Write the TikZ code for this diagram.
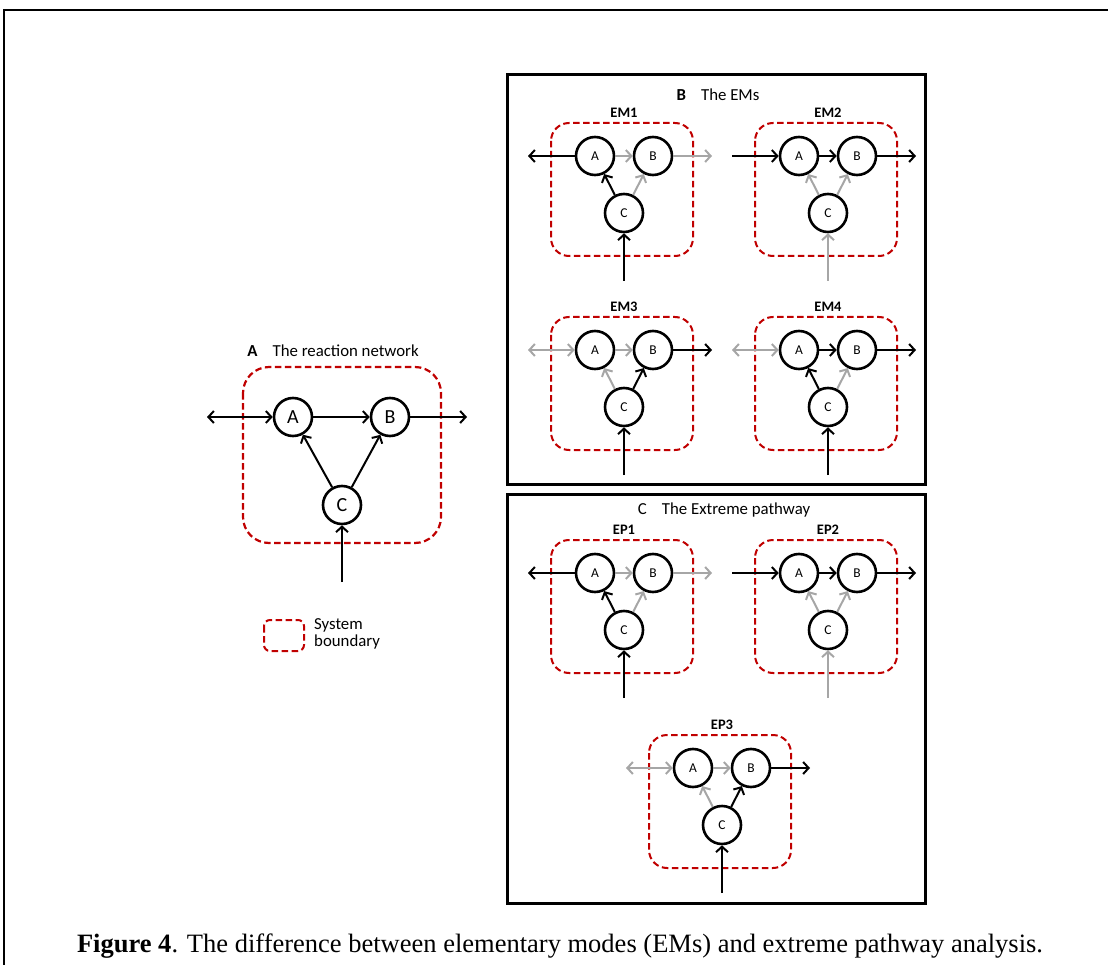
\documentclass[tikz,border=0pt]{standalone}
\usepackage{fontspec}
\setmainfont{Carlito}
\newfontfamily\capfont{Liberation Serif}
\usetikzlibrary{arrows.meta}

\definecolor{bred}{HTML}{C00000}
\definecolor{idle}{HTML}{A6A6A6}

% one small network: #1 prefix, #2 title, #3 left edge (tips, colour),
% #4 A->B, #5 B->out, #6 C->A, #7 C->B, #8 in->C
\newcommand{\modenet}[8]{%
  \draw[sysbox, rounded corners=18pt] (-44,-33) rectangle (98,100);
  \node[font=\bfseries\fontsize{14.5}{14.5}\selectfont] (#1T) at (29,-43) {#2};
  \coordinate (#1L) at (-67,0);
  \coordinate (#1R) at (117,0);
  \coordinate (#1S) at (29,125);
  \node[spec] (#1A) at (0,0) {A};
  \node[spec] (#1B) at (58,0) {B};
  \node[spec] (#1C) at (29,57) {C};
  \draw[flow,#3] (#1L) -- (#1A);
  \draw[flow,->,#4] (#1A) -- (#1B);
  \draw[flow,->,#5] (#1B) -- (#1R);
  \draw[flow,->,#6] (#1C) -- (#1A);
  \draw[flow,->,#7] (#1C) -- (#1B);
  \draw[flow,->,#8] (#1S) -- (#1C);
}

\begin{document}
\begin{tikzpicture}[x=1pt,y=-1pt,>={Straight Barb[length=5.5pt,width=12pt]}]

% Stili
\tikzset{
  spec/.style={circle, draw, fill=white, line width=2.6pt, minimum size=38pt,
    inner sep=0pt, font=\fontsize{13.5}{13.5}\selectfont},
  sysbox/.style={draw=bred, line width=2pt, dash pattern=on 6.5pt off 3.5pt},
  flow/.style={line width=2pt},
  panel/.style={draw, line width=3pt},
  title/.style={font=\fontsize{16.8}{16.8}\selectfont}
}

\useasboundingbox (0,0) rectangle (1108,965);

% cornice esterna
\draw[line width=2pt] (4,980) -- (4,10) -- (1120,10);

% --- Pannello A: la rete ---
\node[title] (titA) at (333,351) {\textbf{A}\hspace{0.9em}The reaction network};
\draw[sysbox, line width=2.2pt, rounded corners=26pt] (243,367) rectangle (441,543);
\coordinate (inL) at (207,417);
\coordinate (outR) at (467,417);
\coordinate (srcC) at (342,582);
\node[spec, font=\fontsize{20}{20}\selectfont] (A) at (293,417) {A};
\node[spec, font=\fontsize{20}{20}\selectfont] (B) at (390,417) {B};
\node[spec, font=\fontsize{20}{20}\selectfont] (C) at (342,505) {C};
\draw[flow,<->] (inL) -- (A);
\draw[flow,->] (A) -- (B);
\draw[flow,->] (B) -- (outR);
\draw[flow,->] (C) -- (A);
\draw[flow,->] (C) -- (B);
\draw[flow,->] (srcC) -- (C);

% legenda
\draw[sysbox, rounded corners=6pt] (264,620) rectangle (304,651);
\node[title, anchor=west, align=left, inner sep=0pt] (legend) at (314,634)
  {System\\boundary};

% --- Pannello B: gli EM ---
\draw[panel] (507,75) rectangle (925,484);
\node[title] (titB) at (718,95) {\textbf{B}\hspace{0.9em}The EMs};
\begin{scope}[shift={(595,156)}]
  \modenet{em1}{EM1}{<-,black}{idle}{idle}{black}{idle}{black}
\end{scope}
\begin{scope}[shift={(799,156)}]
  \modenet{em2}{EM2}{->,black}{black}{black}{idle}{idle}{idle}
\end{scope}
\begin{scope}[shift={(595,350)}]
  \modenet{em3}{EM3}{<->,idle}{idle}{black}{idle}{black}{black}
\end{scope}
\begin{scope}[shift={(799,350)}]
  \modenet{em4}{EM4}{<->,idle}{black}{black}{black}{idle}{black}
\end{scope}

% --- Pannello C: i pathway estremi ---
\draw[panel] (507,494) rectangle (925,903);
\node[title] (titC) at (724,510) {C\hspace{0.9em}The Extreme pathway};
\begin{scope}[shift={(595,573)}]
  \modenet{ep1}{EP1}{<-,black}{idle}{idle}{black}{idle}{black}
\end{scope}
\begin{scope}[shift={(799,573)}]
  \modenet{ep2}{EP2}{->,black}{black}{black}{idle}{idle}{idle}
\end{scope}
\begin{scope}[shift={(693,768)}]
  \modenet{ep3}{EP3}{<->,idle}{idle}{black}{idle}{black}{black}
\end{scope}

% didascalia
\node[font=\capfont\fontsize{26.5}{26.5}\selectfont] (caption) at (560,946)
  {\textbf{Figure 4}. The difference between elementary modes (EMs) and extreme pathway analysis.};

\end{tikzpicture}
\end{document}
